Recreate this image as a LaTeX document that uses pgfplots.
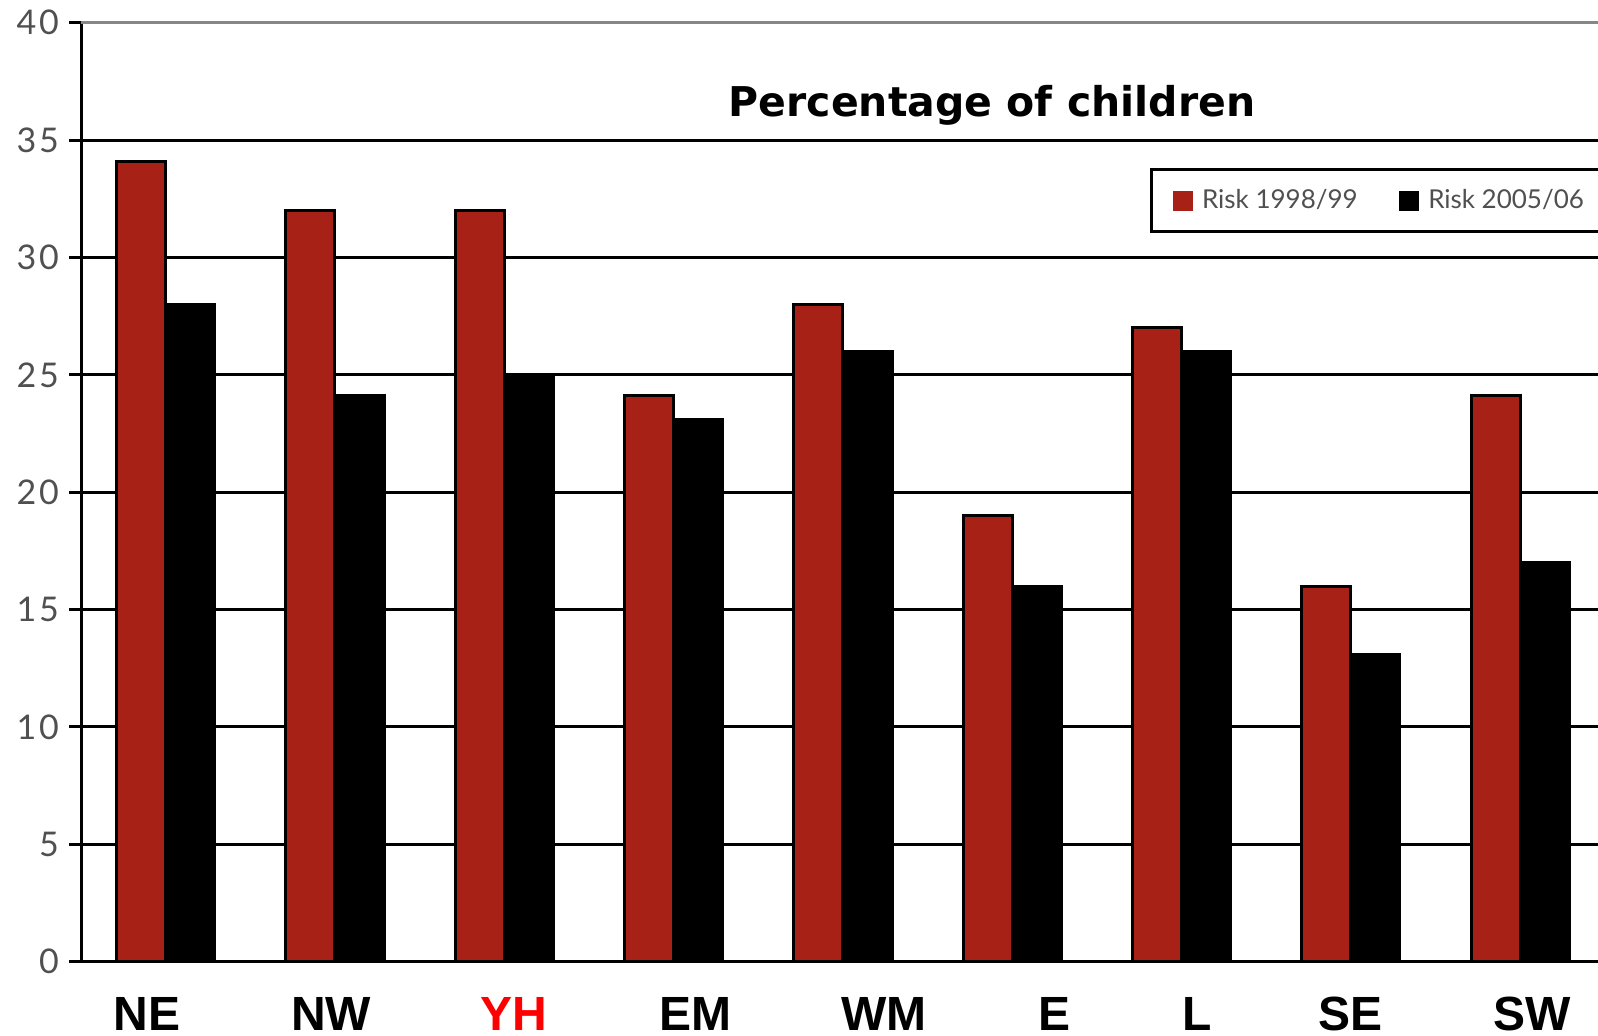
\documentclass[border=0pt]{standalone}
\usepackage{fontspec}
\setmainfont{Liberation Sans}
\newfontfamily\gill{Lato}
\newfontfamily\gilltitle{DejaVu Sans}
\newfontfamily\gillnum{Lato}[LetterSpace=8]
\usepackage{pgfplots}
\pgfplotsset{compat=1.18}
\definecolor{barred}{RGB}{168,33,22}
\definecolor{tickgray}{RGB}{80,80,80}
\begin{document}
\begin{tikzpicture}
\begin{axis}[
  at={(40.5pt,36.65pt)}, anchor=south west,
  scale only axis, width=758.5pt, height=469.5pt,
  xmin=-0.5, xmax=8.46, ymin=0, ymax=40,
  ybar=0pt, bar width=0.29,
  axis x line=bottom, axis y line=left,
  axis line style={-, line width=1.5pt},
  tick align=outside,
  ytick={0,5,...,35},
  extra y ticks={40},
  extra y tick style={grid=major, major grid style={gray!95, line width=1.5pt}},
  ymajorgrids, major grid style={black, line width=1.5pt},
  major tick length=6pt, minor tick length=7pt,
  ytick style={black, line width=1.5pt},
  xtick={-0.110,0.977,2.058,3.127,4.243,5.247,6.091,6.999,8.071},
  xticklabels={NE,NW,\textcolor{red}{YH},EM,WM,E,L,SE,SW},
  xtick style={draw=none},
  minor xtick={-0.5,0.5,...,7.5},
  minor x tick style={black, line width=1.2pt},
  xticklabel style={anchor=base, yshift=-28.5pt, inner sep=0pt, text depth=0pt, font=\fontsize{24}{24}\selectfont\bfseries},
  /pgf/number format/assume math mode=true,
  yticklabel style={anchor=east, inner sep=0pt, xshift=-4.9pt, text=tickgray, font=\gillnum\fontsize{17}{17}\selectfont},
  title={Percentage of children},
  every axis title shift=0pt,
  title style={at={(0.6005,0.900)}, anchor=base, yshift=0pt, inner sep=0pt, font=\gilltitle\bfseries\fontsize{20.5}{20.5}\selectfont},
  legend style={at={(0.7047,0.8453)}, anchor=north west, legend columns=2, draw=black, line width=1.5pt,
    font=\gill\fontsize{13}{13}\selectfont, text=tickgray, inner xsep=10.5pt, inner ysep=8pt,
    /tikz/every even column/.append style={column sep=18.5pt}},
  legend image code/.code={\fill[#1, draw=none] (0pt,-5pt) rectangle (10pt,5pt); \path (12pt,0pt);},
]
\addplot[fill=barred, draw=black, line width=1.5pt] coordinates {(0,34.1) (1,32) (2,32) (3,24.1) (4,28) (5,19) (6,27) (7,16) (8,24.1)};
\addplot[fill=black, draw=black, line width=1.5pt] coordinates {(0,28) (1,24.1) (2,25) (3,23.1) (4,26) (5,16) (6,26) (7,13.1) (8,17)};
\legend{Risk 1998/99, Risk 2005/06}
\end{axis}
\pgfresetboundingbox
\path[use as bounding box] (0,0) rectangle (799pt,517.5pt);
\end{tikzpicture}
\end{document}
